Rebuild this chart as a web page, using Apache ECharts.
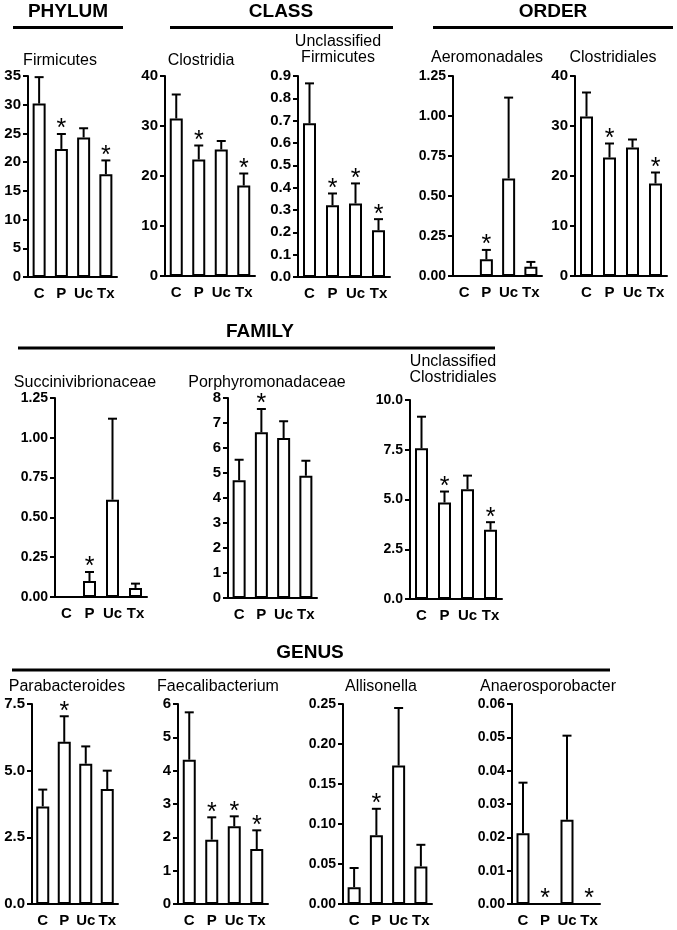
<!DOCTYPE html>
<html>
<head>
<meta charset="utf-8">
<script src="https://cdn.jsdelivr.net/npm/echarts@6/dist/echarts.min.js"></script>
<style>
html,body{margin:0;padding:0;background:#fff;}
#chart{width:677px;height:930px;}
</style>
</head>
<body>
<div id="chart"></div>
<script>
// ---------- data ----------
const categories = ['C', 'P', 'Uc', 'Tx'];

const firmicutesMean = [30.2, 22.3, 24.3, 17.9];
const firmicutesErr  = [34.8, 24.9, 25.9, 20.3];
const firmicutesSig  = [0, 1, 0, 1];
const firmicutesTicks = [0, 5, 10, 15, 20, 25, 30, 35];

const clostridiaMean = [31.5, 23.3, 25.3, 18.1];
const clostridiaErr  = [36.3, 26.1, 27.0, 20.5];
const clostridiaSig  = [0, 1, 0, 1];
const clostridiaTicks = [0, 10, 20, 30, 40];

const uncFirmicutesMean = [0.688, 0.321, 0.329, 0.209];
const uncFirmicutesErr  = [0.867, 0.374, 0.419, 0.259];
const uncFirmicutesSig  = [0, 1, 1, 1];
const uncFirmicutesTicks = ['0.0', '0.1', '0.2', '0.3', '0.4', '0.5', '0.6', '0.7', '0.8', '0.9'];

const aeromonadalesMean = [0, 0.104, 0.610, 0.058];
const aeromonadalesErr  = [0, 0.163, 1.115, 0.088];
const aeromonadalesSig  = [0, 1, 0, 0];
const aeromonadalesTicks = ['0.00', '0.25', '0.50', '0.75', '1.00', '1.25'];

const clostridialesMean = [31.9, 23.7, 25.7, 18.5];
const clostridialesErr  = [36.7, 26.5, 27.3, 20.7];
const clostridialesSig  = [0, 1, 0, 1];
const clostridialesTicks = [0, 10, 20, 30, 40];

const succinivibrionaceaeMean = [0, 0.100, 0.611, 0.057];
const succinivibrionaceaeErr  = [0, 0.157, 1.120, 0.084];
const succinivibrionaceaeSig  = [0, 1, 0, 0];
const succinivibrionaceaeTicks = ['0.00', '0.25', '0.50', '0.75', '1.00', '1.25'];

const porphyromonadaceaeMean = [4.71, 6.63, 6.40, 4.89];
const porphyromonadaceaeErr  = [5.53, 7.56, 7.07, 5.49];
const porphyromonadaceaeSig  = [0, 1, 0, 0];
const porphyromonadaceaeTicks = [0, 1, 2, 3, 4, 5, 6, 7, 8];

const uncClostridialesMean = [7.57, 4.85, 5.52, 3.48];
const uncClostridialesErr  = [9.16, 5.40, 6.20, 3.86];
const uncClostridialesSig  = [0, 1, 0, 1];
const uncClostridialesTicks = ['0.0', '2.5', '5.0', '7.5', '10.0'];

const parabacteroidesMean = [3.66, 6.08, 5.26, 4.31];
const parabacteroidesErr  = [4.29, 7.04, 5.91, 5.00];
const parabacteroidesSig  = [0, 1, 0, 0];
const parabacteroidesTicks = ['0.0', '2.5', '5.0', '7.5'];

const faecalibacteriumMean = [4.33, 1.93, 2.33, 1.65];
const faecalibacteriumErr  = [5.75, 2.60, 2.63, 2.21];
const faecalibacteriumSig  = [0, 1, 1, 1];
const faecalibacteriumTicks = [0, 1, 2, 3, 4, 5, 6];

const allisonellaMean = [0.021, 0.086, 0.173, 0.047];
const allisonellaErr  = [0.045, 0.119, 0.245, 0.074];
const allisonellaSig  = [0, 1, 0, 0];
const allisonellaTicks = ['0.00', '0.05', '0.10', '0.15', '0.20', '0.25'];

const anaerosporobacterMean = [0.0212, 0, 0.0253, 0];
const anaerosporobacterErr  = [0.0364, 0, 0.0505, 0];
const anaerosporobacterSig  = [0, 1, 0, 1];
const anaerosporobacterTicks = ['0.00', '0.01', '0.02', '0.03', '0.04', '0.05', '0.06'];

// ---------- panels (data + layout) ----------
const panels = [
  { title: ['Firmicutes'], mean: firmicutesMean, err: firmicutesErr, sig: firmicutesSig, ticks: firmicutesTicks,
    left: 28, top: 76, width: 89, height: 201, tx: 60, ty: 61 },
  { title: ['Clostridia'], mean: clostridiaMean, err: clostridiaErr, sig: clostridiaSig, ticks: clostridiaTicks,
    left: 165, top: 76, width: 90, height: 200, tx: 201, ty: 61 },
  { title: ['Unclassified', 'Firmicutes'], mean: uncFirmicutesMean, err: uncFirmicutesErr, sig: uncFirmicutesSig, ticks: uncFirmicutesTicks,
    left: 298, top: 76, width: 92, height: 201, tx: 338, ty: 42 },
  { title: ['Aeromonadales'], mean: aeromonadalesMean, err: aeromonadalesErr, sig: aeromonadalesSig, ticks: aeromonadalesTicks,
    left: 453, top: 76, width: 89, height: 200, tx: 487, ty: 58 },
  { title: ['Clostridiales'], mean: clostridialesMean, err: clostridialesErr, sig: clostridialesSig, ticks: clostridialesTicks,
    left: 575, top: 76, width: 92, height: 200, tx: 613, ty: 58 },
  { title: ['Succinivibrionaceae'], mean: succinivibrionaceaeMean, err: succinivibrionaceaeErr, sig: succinivibrionaceaeSig, ticks: succinivibrionaceaeTicks,
    left: 55, top: 398, width: 92, height: 199, tx: 85, ty: 383 },
  { title: ['Porphyromonadaceae'], mean: porphyromonadaceaeMean, err: porphyromonadaceaeErr, sig: porphyromonadaceaeSig, ticks: porphyromonadaceaeTicks,
    left: 228, top: 398, width: 89, height: 200, tx: 267, ty: 383 },
  { title: ['Unclassified', 'Clostridiales'], mean: uncClostridialesMean, err: uncClostridialesErr, sig: uncClostridialesSig, ticks: uncClostridialesTicks,
    left: 410, top: 400, width: 92, height: 199, tx: 453, ty: 362 },
  { title: ['Parabacteroides'], mean: parabacteroidesMean, err: parabacteroidesErr, sig: parabacteroidesSig, ticks: parabacteroidesTicks,
    left: 32, top: 704, width: 86, height: 200, tx: 67, ty: 687 },
  { title: ['Faecalibacterium'], mean: faecalibacteriumMean, err: faecalibacteriumErr, sig: faecalibacteriumSig, ticks: faecalibacteriumTicks,
    left: 178, top: 704, width: 90, height: 200, tx: 218, ty: 687 },
  { title: ['Allisonella'], mean: allisonellaMean, err: allisonellaErr, sig: allisonellaSig, ticks: allisonellaTicks,
    left: 343, top: 704, width: 89, height: 200, tx: 381, ty: 687 },
  { title: ['Anaerosporobacter'], mean: anaerosporobacterMean, err: anaerosporobacterErr, sig: anaerosporobacterSig, ticks: anaerosporobacterTicks,
    left: 512, top: 704, width: 88, height: 200, tx: 548, ty: 687 }
];

const groupHeaders = [
  { text: 'PHYLUM', x: 68, y: 12, x1: 13, x2: 123, ly: 27.5 },
  { text: 'CLASS', x: 281, y: 12, x1: 170, x2: 393, ly: 27.5 },
  { text: 'ORDER', x: 553, y: 12, x1: 433, x2: 673, ly: 27.5 },
  { text: 'FAMILY', x: 260, y: 332, x1: 18, x2: 495, ly: 348 },
  { text: 'GENUS', x: 310, y: 653, x1: 12, x2: 610, ly: 670 }
];

const FONT = '"Liberation Sans", Arial, Helvetica, sans-serif';

const grid = [], xAxis = [], yAxis = [], series = [], graphic = [];

panels.forEach((p, i) => {
  const tickNums = p.ticks.map(Number);
  const interval = tickNums[1] - tickNums[0];
  const dec = String(p.ticks[1]).includes('.') ? String(p.ticks[1]).split('.')[1].length : 0;
  const maxLen = Math.max(...p.ticks.map(t => String(t).length));
  grid.push({ left: p.left, top: p.top, width: p.width, height: p.height, containLabel: false });
  xAxis.push({
    type: 'category', gridIndex: i, data: categories,
    axisLine: { lineStyle: { color: '#000', width: 2 } },
    axisTick: { alignWithLabel: true, length: 5, lineStyle: { color: '#000', width: 2 } },
    axisLabel: { color: '#000', fontFamily: FONT, fontWeight: 'bold', fontSize: 15, margin: 9, interval: 0 },
    splitLine: { show: false }
  });
  yAxis.push({
    type: 'value', gridIndex: i, min: tickNums[0], max: tickNums[tickNums.length - 1], interval: interval,
    axisLine: { show: true, lineStyle: { color: '#000', width: 2 } },
    axisTick: { show: true, length: 5, lineStyle: { color: '#000', width: 2 } },
    axisLabel: { color: '#000', fontFamily: FONT, fontWeight: 'bold', fontSize: maxLen <= 3 ? 15 : 14, margin: 7,
      showMinLabel: true, showMaxLabel: true,
      formatter: v => Number(v).toFixed(dec) },
    splitLine: { show: false }
  });
  series.push({
    type: 'bar', xAxisIndex: i, yAxisIndex: i, data: p.mean, barWidth: 13,
    itemStyle: { color: '#fff', borderColor: '#000', borderWidth: 2 },
    silent: true, animation: false, z: 2
  });
  series.push({
    type: 'custom', xAxisIndex: i, yAxisIndex: i, animation: false, silent: true, z: 3,
    data: p.mean.map((m, k) => [k, m, p.err[k], p.sig[k]]),
    renderItem: (params, api) => {
      const base = api.coord([api.value(0), api.value(1)]);
      const top = api.coord([api.value(0), api.value(2)]);
      const children = [];
      if (api.value(2) > api.value(1)) {
        children.push({ type: 'line', shape: { x1: base[0], y1: base[1], x2: top[0], y2: top[1] },
          style: { stroke: '#000', lineWidth: 2 } });
        children.push({ type: 'line', shape: { x1: top[0] - 4.5, y1: top[1], x2: top[0] + 4.5, y2: top[1] },
          style: { stroke: '#000', lineWidth: 2 } });
      }
      if (api.value(3)) {
        const ref = api.value(2) > 0 ? top : base;
        children.push({ type: 'text', x: ref[0], y: ref[1] + 8,
          style: { text: '*', fill: '#000', font: '25px ' + FONT, textAlign: 'center', textVerticalAlign: 'bottom' } });
      }
      return { type: 'group', children };
    }
  });
  p.title.forEach((t, j) => {
    graphic.push({ type: 'text', x: p.tx, y: p.ty + j * 16,
      style: { text: t, fill: '#000', font: '16px ' + FONT, textAlign: 'center', textVerticalAlign: 'middle' } });
  });
});

groupHeaders.forEach(h => {
  graphic.push({ type: 'text', x: h.x, y: h.y,
    style: { text: h.text, fill: '#000', font: 'bold 19px ' + FONT, textAlign: 'center', textVerticalAlign: 'middle' } });
  graphic.push({ type: 'line', shape: { x1: h.x1, y1: h.ly, x2: h.x2, y2: h.ly }, style: { stroke: '#000', lineWidth: 3 } });
});

const chart = echarts.init(document.getElementById('chart'), null, { renderer: 'canvas' });
chart.setOption({
  backgroundColor: '#fff',
  animation: false,
  grid, xAxis, yAxis, series, graphic
});
</script>
</body>
</html>
